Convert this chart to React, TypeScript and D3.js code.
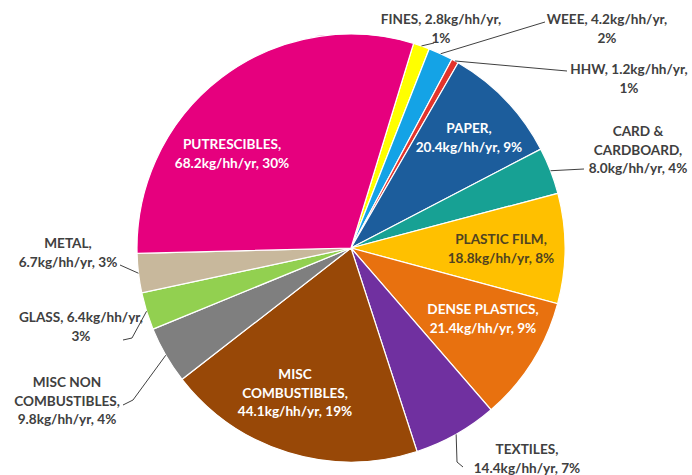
import React from "react";
import * as d3 from "d3";

// ---- data ----
const categories = [
  "FINES", "WEEE", "HHW", "PAPER", "CARD & CARDBOARD", "PLASTIC FILM",
  "DENSE PLASTICS", "TEXTILES", "MISC COMBUSTIBLES", "MISC NON COMBUSTIBLES",
  "GLASS", "METAL", "PUTRESCIBLES",
];
const values = [2.8, 4.2, 1.2, 20.4, 8.0, 18.8, 21.4, 14.4, 44.1, 9.8, 6.4, 6.7, 68.2];
const percents = [1, 2, 1, 9, 4, 8, 9, 7, 19, 4, 3, 3, 30];
const labelLines = [
  ["FINES, 2.8kg/hh/yr,", "1%"],
  ["WEEE, 4.2kg/hh/yr,", "2%"],
  ["HHW, 1.2kg/hh/yr,", "1%"],
  ["PAPER,", "20.4kg/hh/yr, 9%"],
  ["CARD &", "CARDBOARD,", "8.0kg/hh/yr, 4%"],
  ["PLASTIC FILM,", "18.8kg/hh/yr, 8%"],
  ["DENSE PLASTICS,", "21.4kg/hh/yr, 9%"],
  ["TEXTILES,", "14.4kg/hh/yr, 7%"],
  ["MISC", "COMBUSTIBLES,", "44.1kg/hh/yr, 19%"],
  ["MISC NON", "COMBUSTIBLES,", "9.8kg/hh/yr, 4%"],
  ["GLASS, 6.4kg/hh/yr,", "3%"],
  ["METAL,", "6.7kg/hh/yr, 3%"],
  ["PUTRESCIBLES,", "68.2kg/hh/yr, 30%"],
];

// ---- styles / layout ----
const colors = [
  "#FFFF00", "#14A3E6", "#E3342C", "#1C5D9C", "#17A194", "#FFC000",
  "#E8710F", "#7030A0", "#984807", "#7F7F7F", "#92D050", "#C8B89C", "#E6007E",
];
const textColors = [
  "#404040", "#404040", "#404040", "#FFFFFF", "#404040", "#4f4320",
  "#FFFFFF", "#404040", "#FFFFFF", "#404040", "#404040", "#404040", "#FFFFFF",
];
// label block centre relative to pie centre, and leader end (null = no leader)
const labelPos: [number, number][] = [
  [90, -219], [256, -219], [278, -169], [118, -110], [287, -98], [150, 1],
  [132, 71], [176, 211], [-56, 145], [-284, 153], [-270, 79], [-283, 5], [-119, -94],
];
const leaderEnd: ([number, number][] | null)[] = [
  [[83, -205]],
  [[194, -226]],
  [[216, -177]],
  null,
  [[233, -79]],
  null,
  null,
  [[106, 214], [112, 219]],
  null,
  [[-218, 152], [-228, 157]],
  [[-219, 90], [-228, 92]],
  [[-231, 17]],
  null,
];

const W = 692, H = 475;
const cx = 351, cy = 248, R = 214;
const startDeg = 17;
const lineH = 18.5;
const fontFamily = "Lato, 'Noto Sans', sans-serif";
const fontSize = 13.6;

export default function App() {
  const pie = d3.pie<number>().sort(null).value((d) => d)
    .startAngle((startDeg * Math.PI) / 180)
    .endAngle(((startDeg + 360) * Math.PI) / 180);
  const arcs = pie(values);
  const arcGen = d3.arc<d3.PieArcDatum<number>>().innerRadius(0).outerRadius(R);

  return (
    <svg width={W} height={H} style={{ position: "fixed", left: 0, top: 0, background: "#fff" }}>
      <g transform={`translate(${cx},${cy})`}>
        {arcs.map((a, i) => (
          <path key={categories[i]} d={arcGen(a) || ""} fill={colors[i]} stroke="#fff" strokeWidth={1.2} />
        ))}
        {arcs.map((a, i) => {
          const le = leaderEnd[i];
          if (!le) return null;
          const mid = (a.startAngle + a.endAngle) / 2;
          const p0: [number, number] = [Math.sin(mid) * R, -Math.cos(mid) * R];
          const pts = [p0, ...le];
          return (
            <path key={"l" + i} d={d3.line()(pts) || ""} fill="none" stroke="#404040" strokeWidth={1} />
          );
        })}
        {labelLines.map((lines, i) => {
          const [lx, ly] = labelPos[i];
          const n = lines.length;
          return (
            <text key={"t" + i} textAnchor="middle" fontFamily={fontFamily} fontWeight="bold"
              fontSize={fontSize} fill={textColors[i]}>
              {lines.map((ln, j) => (
                <tspan key={j} x={lx} y={ly + (j - (n - 1) / 2) * lineH + 4.7}>{ln}</tspan>
              ))}
            </text>
          );
        })}
      </g>
    </svg>
  );
}
